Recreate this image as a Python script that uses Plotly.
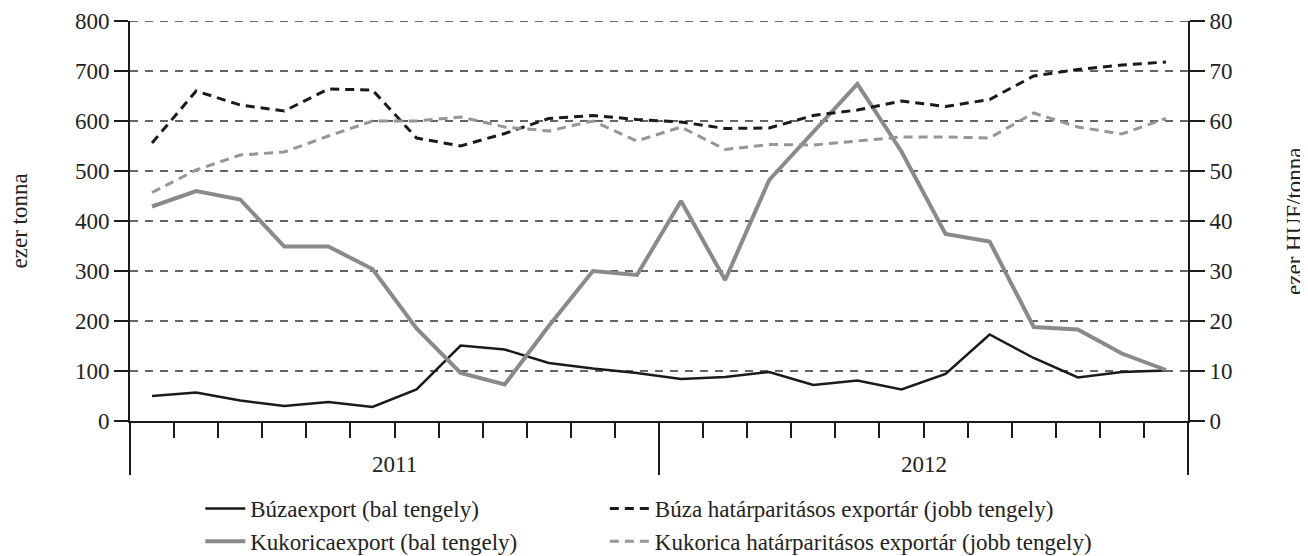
import plotly.graph_objects as go

months = list(range(24))  # Jan 2011 .. Dec 2012
years = ["2011", "2012"]

buza_export = [50, 57, 41, 30, 38, 28, 63, 151, 143, 116, 105, 96,
               84, 88, 98, 72, 81, 63, 94, 173, 126, 87, 98, 101]
kukorica_export = [429, 460, 443, 349, 349, 304, 185, 96, 73, 190, 300, 292,
                   440, 282, 482, 579, 674, 539, 374, 359, 188, 183, 135, 102]
buza_price = [55.6, 66.0, 63.2, 62.0, 66.4, 66.2, 56.6, 55.0, 57.5, 60.5, 61.1, 60.3,
              59.8, 58.5, 58.6, 61.1, 62.2, 64.0, 62.9, 64.3, 69.0, 70.3, 71.2, 71.8]
kukorica_price = [45.7, 50.2, 53.2, 53.8, 57.0, 60.0, 60.0, 60.8, 58.8, 58.0, 60.0, 56.0,
                  58.8, 54.3, 55.3, 55.2, 56.0, 56.8, 56.8, 56.6, 61.6, 58.8, 57.4, 60.5]

left_ticks = [0, 100, 200, 300, 400, 500, 600, 700, 800]
right_ticks = [0, 10, 20, 30, 40, 50, 60, 70, 80]

names = ["Búzaexport (bal tengely)", "Búza határparitásos exportár (jobb tengely)",
         "Kukoricaexport (bal tengely)", "Kukorica határparitásos exportár (jobb tengely)"]

FONT = "Liberation Serif, Times New Roman, serif"
FS = 23
TXT = "#222222"
BLACK = "#1a1a1a"
GREY = "#8a8a8a"
GREY_D = "#969696"

x = [m + 0.5 for m in months]
n_months = len(months)
year_len = 12

fig = go.Figure()
fig.add_trace(go.Scatter(x=x, y=buza_export, name=names[0], mode="lines",
                         line=dict(color=BLACK, width=2.5), yaxis="y",
                         legend="legend"))
fig.add_trace(go.Scatter(x=x, y=buza_price, name=names[1], mode="lines",
                         line=dict(color=BLACK, width=3, dash="9px,6px"), yaxis="y2",
                         legend="legend2"))
fig.add_trace(go.Scatter(x=x, y=kukorica_export, name=names[2], mode="lines",
                         line=dict(color=GREY, width=4), yaxis="y",
                         legend="legend"))
fig.add_trace(go.Scatter(x=x, y=kukorica_price, name=names[3], mode="lines",
                         line=dict(color=GREY_D, width=3, dash="9px,6px"), yaxis="y2",
                         legend="legend2"))

month_ticks = [m for m in range(1, n_months) if m % year_len != 0]
year_ticks = list(range(0, n_months + 1, year_len))

# horizontal dashed gridlines (left axis)
for v in left_ticks[1:]:
    fig.add_shape(type="line", xref="paper", yref="y", x0=0, x1=1, y0=v, y1=v,
                  line=dict(color="#333333", width=1.5, dash="8px,7px"), layer="below")

leg_common = dict(orientation="v", xanchor="left", y=-0.165, yanchor="top",
                  itemwidth=40, font=dict(family=FONT, size=FS, color=TXT),
                  tracegroupgap=0, bgcolor="rgba(0,0,0,0)")

fig.update_layout(
    width=1300, height=548,
    margin=dict(l=122, r=120, t=13, b=135, autoexpand=False),
    paper_bgcolor="white", plot_bgcolor="white",
    font=dict(family=FONT, size=FS, color=TXT),
    showlegend=True,
    legend=dict(x=0.0664, **leg_common),
    legend2=dict(x=0.4488, **leg_common),
    xaxis=dict(range=[0, n_months], tickmode="array", tickvals=month_ticks,
               showticklabels=False, ticks="outside", ticklen=15, tickwidth=2,
               tickcolor=BLACK, showline=True, linecolor=BLACK, linewidth=2,
               showgrid=False, zeroline=False, fixedrange=True),
    xaxis2=dict(range=[0, n_months], overlaying="x", anchor="y", side="bottom",
                tickmode="array", tickvals=year_ticks, showticklabels=False,
                ticks="outside", ticklen=53, tickwidth=2, tickcolor=BLACK,
                showline=False, showgrid=False, zeroline=False),
    yaxis=dict(range=[0, 800], tickmode="array", tickvals=left_ticks,
               ticks="outside", ticklen=14, tickwidth=2, tickcolor=BLACK,
               showline=True, linecolor=BLACK, linewidth=2, showgrid=False,
               zeroline=False, ticksuffix="\u2009",
               tickfont=dict(family=FONT, size=FS, color=TXT)),
    yaxis2=dict(range=[0, 80], tickmode="array", tickvals=right_ticks,
                overlaying="y", side="right", anchor="x",
                ticks="outside", ticklen=15, tickwidth=2, tickcolor=BLACK,
                showline=True, linecolor=BLACK, linewidth=2, showgrid=False,
                zeroline=False, tickprefix="\u2004",
                tickfont=dict(family=FONT, size=FS, color=TXT)),
)

# invisible trace to activate xaxis2
fig.add_trace(go.Scatter(x=[0], y=[0], xaxis="x2", yaxis="y", mode="markers",
                         marker=dict(opacity=0), showlegend=False, hoverinfo="skip"))

# year labels
for i, yr in enumerate(years):
    fig.add_annotation(x=i * year_len + year_len / 2, xref="x", y=0, yref="y",
                       yshift=-43, text=yr, showarrow=False, yanchor="middle",
                       xanchor="center", font=dict(family=FONT, size=FS, color=TXT))

# axis titles
fig.add_annotation(x=0, xref="paper", xshift=-111.5, y=0.5, yref="paper",
                   xanchor="center", yanchor="middle",
                   text="ezer tonna", textangle=-90, showarrow=False,
                   font=dict(family=FONT, size=FS, color=TXT))
fig.add_annotation(x=1, xref="paper", xshift=106, y=0.5, yref="paper",
                   xanchor="center", yanchor="middle",
                   text="ezer HUF/tonna", textangle=-90, showarrow=False,
                   font=dict(family=FONT, size=FS, color=TXT))

fig.write_html("out.html")
